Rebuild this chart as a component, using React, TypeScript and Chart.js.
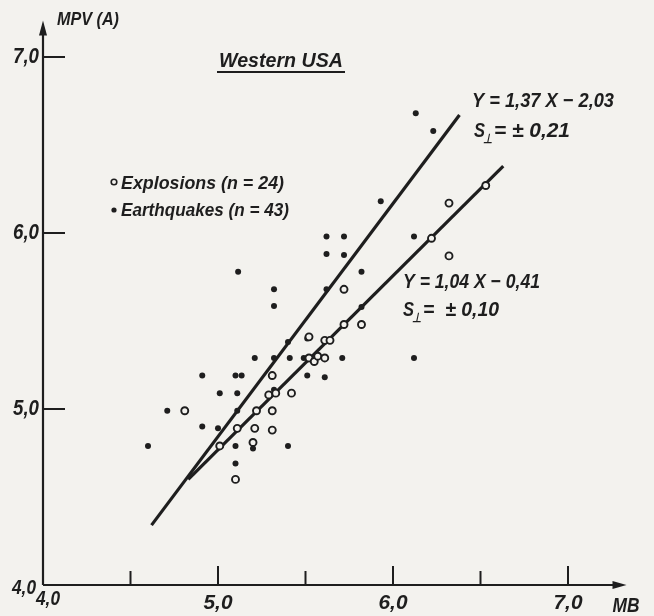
import React, { useEffect, useRef } from 'react';
import { Chart, registerables } from 'chart.js';

Chart.register(...registerables);

// ---- data ----
const explosionMB = [4.81, 5.01, 5.10, 5.11, 5.20, 5.21, 5.22, 5.29, 5.33, 5.31, 5.31, 5.31, 5.42, 5.52, 5.52, 5.55, 5.57, 5.61, 5.61, 5.64, 5.72, 5.72, 5.82, 6.22, 6.32, 6.32, 6.53];
const explosionMPV = [4.99, 4.79, 4.60, 4.89, 4.81, 4.89, 4.99, 5.08, 5.09, 4.99, 4.88, 5.19, 5.09, 5.41, 5.29, 5.27, 5.30, 5.29, 5.39, 5.39, 5.68, 5.48, 5.48, 5.97, 5.87, 6.17, 6.27];

const earthquakeMB = [4.60, 4.71, 4.91, 4.91, 5.00, 5.01, 5.10, 5.135, 5.11, 5.11, 5.10, 5.10, 5.20, 5.115, 5.21, 5.32, 5.32, 5.32, 5.32, 5.40, 5.41, 5.40, 5.49, 5.51, 5.51, 5.51, 5.61, 5.62, 5.62, 5.72, 5.71, 5.82, 5.82, 5.93, 6.12, 6.12, 6.13, 6.23, 5.62, 5.72];
const earthquakeMPV = [4.79, 4.99, 5.19, 4.90, 4.89, 5.09, 5.19, 5.19, 5.09, 4.99, 4.79, 4.69, 4.775, 5.78, 5.29, 5.68, 5.585, 5.29, 5.11, 5.38, 5.29, 4.79, 5.29, 5.29, 5.40, 5.19, 5.18, 5.68, 5.88, 5.875, 5.29, 5.78, 5.58, 6.18, 5.98, 5.29, 6.68, 6.58, 5.98, 5.98];

const fitSteepMB = [4.62, 6.38];
const fitSteepMPV = [4.34, 6.67];
const fitShallowMB = [4.83, 6.63];
const fitShallowMPV = [4.60, 6.38];

const yTickValues = [5.0, 6.0, 7.0];
const yTickLabels = ['5,0', '6,0', '7,0'];
const xMajorValues = [5.0, 6.0, 7.0];
const xMajorLabels = ['5,0', '6,0', '7,0'];
const xMinorValues = [4.5, 5.5, 6.5];

const INK = '#1e1e1e';
const PAPER = '#f3f2ee';
const FAMILY = '"Liberation Sans", Arial, sans-serif';

function fitText(ctx: CanvasRenderingContext2D, s: string, x: number, y: number, size: number, width: number, bold = true, align: CanvasTextAlign = 'left') {
  ctx.save();
  ctx.font = `italic ${bold ? 'bold ' : ''}${size}px ${FAMILY}`;
  const w = ctx.measureText(s).width;
  const sx = width / w;
  ctx.translate(x, y);
  ctx.scale(sx, 1);
  ctx.textAlign = align;
  ctx.textBaseline = 'middle';
  ctx.fillStyle = INK;
  ctx.fillText(s, 0, 0);
  ctx.restore();
}

function drawS(ctx: CanvasRenderingContext2D, rest: string, x: number, y: number, width: number) {
  // "S" with a perpendicular subscript, then the rest
  fitText(ctx, 'S', x, y, 20, 11);
  fitText(ctx, '⊥', x + 9, y + 8, 13, 9);
  fitText(ctx, rest, x + 20, y, 20, width - 20);
}

const paperPlugin = {
  id: 'paper',
  beforeDraw(chart: any) {
    const { ctx, width, height } = chart;
    ctx.save();
    ctx.fillStyle = PAPER;
    ctx.fillRect(0, 0, width, height);
    ctx.restore();
  },
};

const axesPlugin = {
  id: 'axesDraw',
  beforeDatasetsDraw(chart: any) {
    const { ctx } = chart;
    const xs = chart.scales.x;
    const ys = chart.scales.y;
    const x0 = xs.getPixelForValue(4.0);
    const y0 = ys.getPixelForValue(4.0);
    const xEnd = xs.getPixelForValue(7.3);
    const yEnd = ys.getPixelForValue(7.15);
    ctx.save();
    ctx.strokeStyle = INK;
    ctx.fillStyle = INK;
    ctx.lineWidth = 2.2;
    ctx.beginPath();
    ctx.moveTo(x0, y0);
    ctx.lineTo(x0, yEnd + 4);
    ctx.moveTo(x0, y0);
    ctx.lineTo(xEnd - 4, y0);
    ctx.stroke();
    // arrowheads
    ctx.beginPath();
    ctx.moveTo(x0, yEnd - 10);
    ctx.lineTo(x0 - 4, yEnd + 5);
    ctx.lineTo(x0 + 4, yEnd + 5);
    ctx.closePath();
    ctx.fill();
    ctx.beginPath();
    ctx.moveTo(xEnd + 6, y0);
    ctx.lineTo(xEnd - 8, y0 - 4);
    ctx.lineTo(xEnd - 8, y0 + 4);
    ctx.closePath();
    ctx.fill();
    // y ticks (inward)
    ctx.lineWidth = 2;
    yTickValues.forEach((v) => {
      const py = ys.getPixelForValue(v);
      ctx.beginPath();
      ctx.moveTo(x0, py);
      ctx.lineTo(x0 + 22, py);
      ctx.stroke();
    });
    // x ticks (inward)
    xMajorValues.forEach((v) => {
      const px = xs.getPixelForValue(v);
      ctx.beginPath();
      ctx.moveTo(px, y0);
      ctx.lineTo(px, y0 - 19);
      ctx.stroke();
    });
    xMinorValues.forEach((v) => {
      const px = xs.getPixelForValue(v);
      ctx.beginPath();
      ctx.moveTo(px, y0);
      ctx.lineTo(px, y0 - 14);
      ctx.stroke();
    });
    ctx.restore();

    // tick labels
    yTickValues.forEach((v, i) => {
      fitText(ctx, yTickLabels[i], x0 - 4, ys.getPixelForValue(v), 22, 26, true, 'right');
    });
    xMajorValues.forEach((v, i) => {
      fitText(ctx, xMajorLabels[i], xs.getPixelForValue(v), y0 + 18, 21, 29, true, 'center');
    });
    fitText(ctx, '4,0', x0 - 31, y0 + 3, 21, 24, true);
    fitText(ctx, '4,0', x0 - 7, y0 + 14, 21, 24, true);
    fitText(ctx, 'MB', xs.getPixelForValue(7.3) - 8, y0 + 21, 20, 27, true);
    fitText(ctx, 'MPV (A)', x0 + 14, yEnd - 11, 18, 62, true);
  },
  afterDraw(chart: any) {
    const { ctx } = chart;
    // title
    fitText(ctx, 'Western USA', 219, 61, 20, 124);
    ctx.save();
    ctx.strokeStyle = INK;
    ctx.lineWidth = 1.8;
    ctx.beginPath();
    ctx.moveTo(217, 72);
    ctx.lineTo(345, 72);
    ctx.stroke();
    ctx.restore();

    // legend
    ctx.save();
    ctx.strokeStyle = INK;
    ctx.fillStyle = INK;
    ctx.lineWidth = 1.6;
    ctx.beginPath();
    ctx.arc(114, 182, 2.8, 0, Math.PI * 2);
    ctx.stroke();
    ctx.beginPath();
    ctx.arc(114, 210, 2.6, 0, Math.PI * 2);
    ctx.fill();
    ctx.restore();
    fitText(ctx, 'Explosions (n = 24)', 121, 184, 18, 163);
    fitText(ctx, 'Earthquakes (n = 43)', 121, 211, 18, 168);

    // regression annotations
    fitText(ctx, 'Y = 1,37 X − 2,03', 472, 101, 20, 142);
    drawS(ctx, '= ± 0,21', 474, 131, 96);
    fitText(ctx, 'Y = 1,04 X − 0,41', 403, 282, 20, 137);
    drawS(ctx, '=  ± 0,10', 403, 310, 96);
  },
};

const toPts = (xs: number[], ys: number[]) => xs.map((x, i) => ({ x, y: ys[i] }));

export default function App() {
  const ref = useRef<HTMLCanvasElement | null>(null);
  useEffect(() => {
    if (!ref.current) return;
    const chart = new Chart(ref.current, {
      type: 'scatter',
      data: {
        datasets: [
          {
            label: 'Explosions (n = 24)',
            data: toPts(explosionMB, explosionMPV),
            pointRadius: 3.5,
            pointBorderWidth: 1.9,
            pointBorderColor: INK,
            pointBackgroundColor: PAPER,
            showLine: false,
          },
          {
            label: 'Earthquakes (n = 43)',
            data: toPts(earthquakeMB, earthquakeMPV),
            pointRadius: 3,
            pointBorderWidth: 0,
            pointBackgroundColor: INK,
            showLine: false,
          },
          {
            label: 'Y = 1,37 X − 2,03',
            data: toPts(fitSteepMB, fitSteepMPV),
            showLine: true,
            borderColor: INK,
            borderWidth: 3.2,
            pointRadius: 0,
          },
          {
            label: 'Y = 1,04 X − 0,41',
            data: toPts(fitShallowMB, fitShallowMPV),
            showLine: true,
            borderColor: INK,
            borderWidth: 3.2,
            pointRadius: 0,
          },
        ],
      },
      options: {
        animation: false,
        responsive: false,
        devicePixelRatio: 1,
        layout: { padding: { left: 43, right: 33.5, top: 30.6, bottom: 31 } },
        scales: {
          x: { type: 'linear', min: 4.0, max: 7.3, display: false },
          y: { type: 'linear', min: 4.0, max: 7.15, display: false },
        },
        plugins: {
          legend: { display: false },
          tooltip: { enabled: false },
        },
      },
      plugins: [paperPlugin, axesPlugin],
    });
    return () => chart.destroy();
  }, []);
  return (
    <div style={{ position: 'absolute', left: 0, top: 0, width: 654, height: 616, background: PAPER }}>
      <canvas ref={ref} width={654} height={616} style={{ display: 'block' }} />
    </div>
  );
}
